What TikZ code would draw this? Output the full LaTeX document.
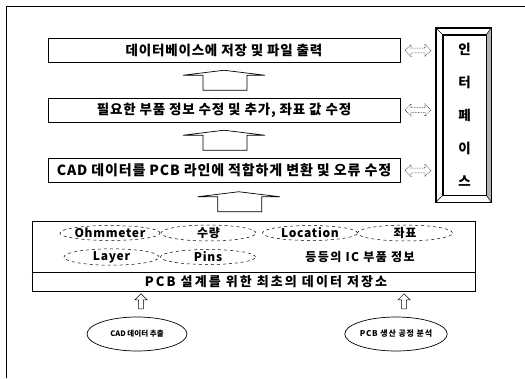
\documentclass[tikz,border=0pt]{standalone}
\usepackage{fontspec}
\setmainfont{Noto Sans CJK KR}
\usetikzlibrary{shapes.geometric,shapes.arrows,calc}
\tikzset{
  stepbox/.style={draw, line width=0.8pt, minimum width=352pt, minimum height=24pt, inner sep=0pt,
    font=\fontsize{13.5}{15}\selectfont\bfseries\addfontfeatures{LetterSpace=6}},
  pill/.style={ellipse, draw, dashed, line width=0.5pt, minimum width=95pt, minimum height=15pt, inner sep=0pt,
    font=\fontsize{12}{14}\selectfont\bfseries\addfontfeatures{LetterSpace=6}},
  plain/.style={inner sep=0pt, font=\fontsize{12}{14}\selectfont\bfseries\addfontfeatures{LetterSpace=12}},
  srcell/.style={ellipse, draw, line width=0.7pt, minimum width=100pt, minimum height=34pt, inner sep=0pt,
    font=\fontsize{7.5}{9}\selectfont\bfseries},
  darrow/.style={double arrow, draw, densely dotted, line width=0.6pt, minimum height=26pt, minimum width=12pt,
    double arrow head extend=2pt, inner sep=1pt},
  uparrow/.style={single arrow, draw, line width=0.5pt, shape border rotate=90, minimum height=15pt,
    minimum width=12pt, single arrow head extend=2pt, inner sep=1pt},
  barrow/.style={draw, line width=0.7pt, line join=miter},
}
\begin{document}
\begin{tikzpicture}[x=1pt,y=-1pt]
\useasboundingbox (0,0) rectangle (525,378);
\fill[white] (0,0) rectangle (525,378);
\draw[line width=0.6pt] (6,378) -- (6,6) -- (525,6);

\node[stepbox] (b1) at (224,50.5) {데이터베이스에 저장 및 파일 출력};
\node[stepbox] (b2) at (224,110) {필요한 부품 정보 수정 및 추가, 좌표 값 수정};
\node[stepbox, font=\fontsize{14}{15}\selectfont\bfseries\addfontfeatures{LetterSpace=6}] (b3) at (224,170.5) {CAD 데이터를 PCB 라인에 적합하게 변환 및 오류 수정};

% interface box
\node[draw, line width=0.8pt, minimum width=55pt, minimum height=174pt, inner sep=0pt] (iface) at (463.5,115) {};
\node[draw, line width=0.8pt, minimum width=43pt, minimum height=160pt, inner sep=0pt] (iin) at (464.5,115) {};
\fill[gray!60] (iface.north east) -- (iface.south east) -- (iin.south east) -- (iin.north east) -- cycle;
\draw[line width=0.8pt] (iface.north west) rectangle (iface.south east);
\draw[line width=0.8pt] (iin.north west) rectangle (iin.south east);
\draw[line width=0.5pt] (iface.north west) -- (iin.north west)
  (iface.north east) -- (iin.north east)
  (iface.south west) -- (iin.south west)
  (iface.south east) -- (iin.south east);
\node[align=center, inner sep=0pt, font=\fontsize{13.5}{33}\selectfont\bfseries] (itext) at (iin.center) {인\\터\\페\\이\\스};

% double arrows
\node[darrow] (d1) at ($(b1.east)!0.5!(iface.west |- b1.east)$) {};
\node[darrow] (d2) at ($(b2.east)!0.5!(iface.west |- b2.east)$) {};
\node[darrow] (d3) at ($(b3.east)!0.5!(iface.west |- b3.east)$) {};

% bottom store
\node[draw, line width=0.8pt, minimum width=443pt, minimum height=70pt, inner sep=0pt] (bot) at (253.5,256) {};
\draw[line width=0.8pt] (bot.west |- 0,272) -- (bot.east |- 0,272);
\node[pill] (e1) at (110,233) {Ohmmeter};
\node[pill] (e2) at (208.5,233) {수량};
\node[pill] (e3) at (310,233) {Location};
\node[pill] (e4) at (405,233) {좌표};
\node[pill] (e5) at (111.5,257) {Layer};
\node[pill] (e6) at (208,257) {Pins};
\node[plain] (t6) at (360,257) {등등의 IC 부품 정보};
\node[plain, font=\fontsize{13}{14}\selectfont\bfseries\addfontfeatures{LetterSpace=16}] (tbot) at (266,282) {PCB 설계를 위한 최초의 데이터 저장소};

% block arrows
\coordinate (m1) at ($(b1.south)!0.5!(b2.north)$);
\coordinate (m2) at ($(b2.south)!0.5!(b3.north)$);
\coordinate (m3) at ($(b3.south)!0.5!(bot.north)$);
\foreach \m in {m1,m2,m3}{
  \draw[barrow, shift={(\m)}] (-41,-5) -- (0,-10) -- (41,-5) -- (23,-5) -- (23,10) -- (-21,10) -- (-21,-5) -- cycle;
}

% sources
\node[srcell] (c1) at (137,334) {CAD 데이터 추출};
\node[srcell, font=\fontsize{8}{9}\selectfont\bfseries\addfontfeatures{LetterSpace=10}] (c2) at (396,334) {PCB 생산 공정 분석};
\node[uparrow] (u1) at (141,302.5) {};
\node[uparrow] (u2) at (404,302.5) {};
\end{tikzpicture}
\end{document}
